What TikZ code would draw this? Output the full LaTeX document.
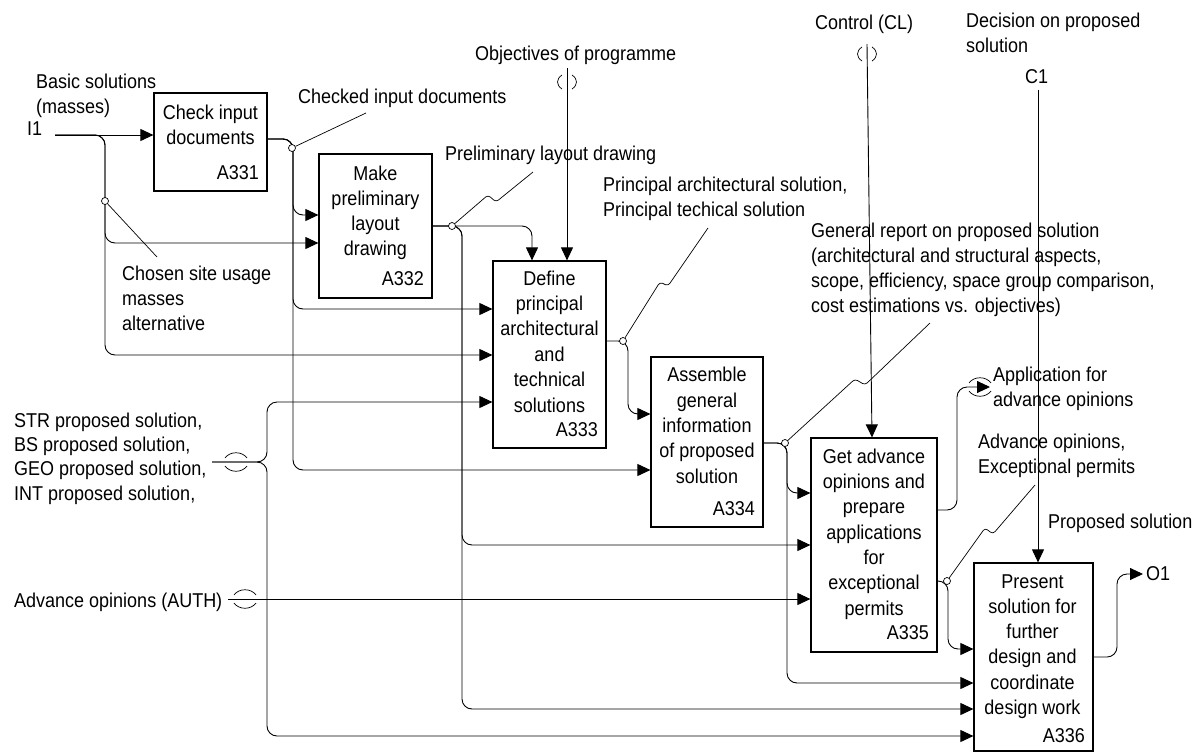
\documentclass[tikz,border=0pt]{standalone}
\usepackage{fontspec}
\setmainfont{Liberation Sans}[FakeStretch=0.9]
\usetikzlibrary{arrows.meta}
\begin{document}
\begin{tikzpicture}[x=1pt,y=-1pt,
  every node/.style={font=\fontsize{20}{25}\selectfont},
  box/.style={draw,line width=1.2pt,inner sep=0pt},
  boxtext/.style={anchor=base,align=center,inner sep=0pt},
  boxid/.style={anchor=base east,inner sep=0pt},
  lbl/.style={anchor=base west,align=left,inner sep=0pt},
  arr/.style={draw,line width=0.9pt,rounded corners=10pt,-{Triangle[length=13pt,width=12pt]}},
  leader/.style={draw,line width=0.7pt,rounded corners=3pt},
  junction/.style={circle,draw,line width=0.7pt,fill=white,inner sep=0pt,minimum size=7pt},
  tunnel/.style={line width=0.7pt},
  tunh/.pic={\draw[tunnel] (-11,-4) .. controls (-6,-11) and (6,-11) .. (11,-4);
             \draw[tunnel] (-11,4) .. controls (-6,11) and (6,11) .. (11,4);},
  tunv/.pic={\draw[tunnel] (-5,-7) .. controls (-11,-3) and (-11,3) .. (-5,7);
             \draw[tunnel] (5,-7) .. controls (11,-3) and (11,3) .. (5,7);}
]
\useasboundingbox (0,0) rectangle (1200,753);

% activity boxes
\node[box,minimum width=113pt,minimum height=98pt]  (a331) at (210.5,142) {};
\node[box,minimum width=113pt,minimum height=144pt] (a332) at (375.5,226) {};
\node[box,minimum width=113pt,minimum height=187pt] (a333) at (549.5,354.5) {};
\node[box,minimum width=112pt,minimum height=170pt] (a334) at (707,442) {};
\node[box,minimum width=126pt,minimum height=214pt] (a335) at (874,545) {};
\node[box,minimum width=119pt,minimum height=188pt] (a336) at (1033.5,657) {};

% box texts (positioned by the baseline of their last line)
\node[boxtext] (a331t) at (210.5,144) {Check input\\documents};
\node[boxid] (a331id) at (259,179) {A331};
\node[boxtext] (a332t) at (375.5,255) {Make\\preliminary\\layout\\drawing};
\node[boxid] (a332id) at (424,285) {A332};
\node[boxtext,font=\fontsize{20}{25.4}\selectfont] (a333t) at (549.5,412) {Define\\principal\\architectural\\and\\technical\\solutions};
\node[boxid] (a333id) at (598,436) {A333};
\node[boxtext,font=\fontsize{20}{25.3}\selectfont] (a334t) at (707,483) {Assemble\\general\\information\\of proposed\\solution};
\node[boxid] (a334id) at (755,515) {A334};
\node[boxtext,font=\fontsize{20}{25.3}\selectfont] (a335t) at (874,615) {Get advance\\opinions and\\prepare\\applications\\for\\exceptional\\permits};
\node[boxid] (a335id) at (929,639) {A335};
\node[boxtext,font=\fontsize{20}{25.3}\selectfont] (a336t) at (1032.5,714.5) {Present\\solution for\\further\\design and\\coordinate\\design work};
\node[boxid] (a336id) at (1085,742) {A336};

% boundary points
\coordinate (i1) at (55,135);
\coordinate (str) at (212,462);
\coordinate (auth) at (228,599);
\coordinate (obj) at (567,68);
\coordinate (cl) at (867,44);
\coordinate (c1) at (1038,90);
\coordinate (app) at (990,387);
\coordinate (o1) at (1143,574);

% I1: basic solutions
\draw[arr] (i1) -- (a331.west |- i1);
\draw[arr] (i1) -- (105,135) -- (105,243) -- (a332.west |- 0,243);
\draw[arr] (i1) -- (105,135) -- (105,355) -- (a333.west |- 0,355);

% checked input documents
\draw[arr] (a331.east |- 0,139) -- (293,139) -- (293,215) -- (a332.west |- 0,215);
\draw[arr] (a331.east |- 0,139) -- (293,139) -- (293,309) -- (a333.west |- 0,309);
\draw[arr] (a331.east |- 0,139) -- (293,139) -- (293,470) -- (a334.west |- 0,470);

% preliminary layout drawing
\draw[arr] (a332.east |- 0,226) -- (532,226) -- (a333.north -| 532,0);
\draw[arr] (a332.east |- 0,226) -- (462,226) -- (462,545) -- (a335.west |- 0,545);
\draw[arr] (a332.east |- 0,226) -- (462,226) -- (462,709) -- (a336.west |- 0,709);

% objectives of programme
\draw[arr] (obj) -- (a333.north -| obj);
\pic at (567,82) {tunv};

% proposed solutions of other disciplines
\draw[arr] (str) -- (267,462) -- (267,402) -- (a333.west |- 0,402);
\draw[arr] (str) -- (267,462) -- (267,736) -- (a336.west |- 0,736);
\pic at (236,462) {tunh};

% advance opinions from authorities
\draw[arr] (auth) -- (a335.west |- auth);
\pic at (245,599) {tunh};

% principal solutions
\draw[arr] (a333.east |- 0,341) -- (628,341) -- (628,414) -- (a334.west |- 0,414);

% general report
\draw[arr] (a334.east |- 0,443) -- (787,443) -- (787,493) -- (a335.west |- 0,493);
\draw[arr] (a334.east |- 0,443) -- (787,443) -- (787,683) -- (a336.west |- 0,683);

% control
\draw[arr] (cl) -- (a335.north -| 872,0);
\pic at (867,54) {tunv};

% C1
\draw[arr] (c1) -- (a336.north -| c1);

% outputs of A335
\draw[arr] (a335.east |- 0,510) -- (957,510) -- (957,387) -- (app);
\pic at (980,387) {tunh};
\draw[arr] (a335.east |- 0,581) -- (948,581) -- (948,649) -- (a336.west |- 0,649);

% output O1
\draw[arr] (a336.east |- 0,657) -- (1117,657) -- (1117,574) -- (o1);

% branch junctions
\node[junction] (j0) at (105,201) {};
\node[junction] (j1) at (292,148) {};
\node[junction] (j2) at (452,226) {};
\node[junction] (j3) at (623,341) {};
\node[junction] (j4) at (785,443) {};
\node[junction] (j5) at (947,581) {};

% label leaders
\draw[leader] (j0) -- (157,257);
\draw[leader] (j1) -- (366,113);
\draw[leader] (j2) -- (488,195) -- (496,202) -- (533,172);
\draw[leader] (j3) -- (660,282) -- (668,286) -- (708,228);
\draw[leader] (j4) -- (855,379) -- (865,385) -- (930,323);
\draw[leader] (j5) -- (985,528) -- (993,534) -- (1035,485);

% labels (positioned by the baseline of their last line)
\node[lbl] (lbasic) at (36,113) {Basic solutions\\(masses)};
\node[lbl] (li1) at (27,135) {I1};
\node[lbl] (lchosen) at (122,330) {Chosen site usage\\masses\\alternative};
\node[lbl] (lchecked) at (298,103) {Checked input documents};
\node[lbl] (lprelim) at (445,160) {Preliminary layout drawing};
\node[lbl] (lobj) at (475,60) {Objectives of programme};
\node[lbl] (lprinc) at (603,216) {Principal architectural solution,\\Principal techical solution};
\node[lbl] (lreport) at (811,312) {General report on proposed solution\\(architectural and structural aspects,\\scope, efficiency, space group comparison,\\cost estimations vs. objectives)};
\node[lbl] (lcl) at (815,29) {Control (CL)};
\node[lbl] (ldec) at (966,52) {Decision on proposed\\solution};
\node[lbl] (lc1) at (1025,83) {C1};
\node[lbl] (lapp) at (993,406) {Application for\\advance opinions};
\node[lbl] (ladv) at (978,473) {Advance opinions,\\Exceptional permits};
\node[lbl] (lprop) at (1048,528) {Proposed solution};
\node[lbl] (lo1) at (1146,580) {O1};
\node[lbl,font=\fontsize{20}{24.3}\selectfont] (lstr) at (14,500) {STR proposed solution,\\BS proposed solution,\\GEO proposed solution,\\INT proposed solution,};
\node[lbl] (lauth) at (14,607) {Advance opinions (AUTH)};
\end{tikzpicture}
\end{document}
